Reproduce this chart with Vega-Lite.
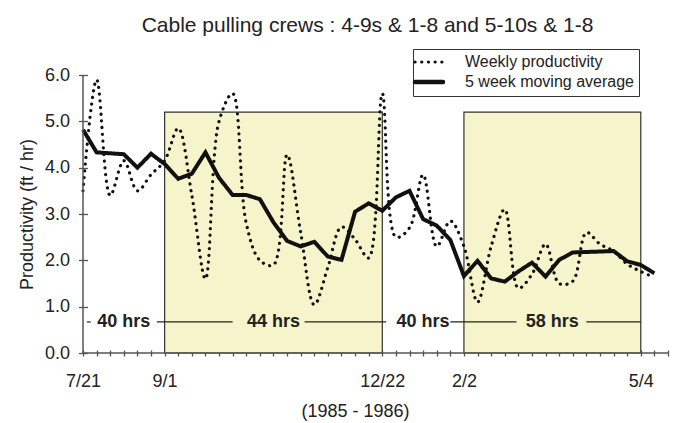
{
  "$schema": "https://vega.github.io/schema/vega-lite/v6.json",
  "width": 585,
  "height": 278,
  "autosize": "none",
  "padding": {"left": 83, "top": 75, "right": 13, "bottom": 70},
  "background": "white",
  "config": {
    "font": "Liberation Sans",
    "view": {"stroke": null},
    "axis": {
      "labelFont": "Liberation Sans",
      "titleFont": "Liberation Sans",
      "labelColor": "#222",
      "titleColor": "#222",
      "tickColor": "#555",
      "tickWidth": 1.3,
      "domain": false,
      "grid": false,
      "titleFontWeight": "normal",
      "labelFontSize": 18,
      "titleFontSize": 18
    }
  },
  "title": {
    "text": "Cable pulling crews : 4-9s & 1-8 and 5-10s & 1-8",
    "fontSize": 21,
    "fontWeight": "normal",
    "font": "Liberation Sans",
    "color": "#222",
    "anchor": "middle",
    "dx": -8,
    "offset": 13
  },
  "datasets": {
    "crew": [
      {"date": "1985-07-21", "weekly": 3.5, "avg": 4.82},
      {"date": "1985-07-28", "weekly": 5.9, "avg": 4.33},
      {"date": "1985-08-04", "weekly": 3.4, "avg": 4.31},
      {"date": "1985-08-11", "weekly": 4.15, "avg": 4.29},
      {"date": "1985-08-18", "weekly": 3.5, "avg": 4.0},
      {"date": "1985-08-25", "weekly": 3.85, "avg": 4.3},
      {"date": "1985-09-01", "weekly": 4.15, "avg": 4.08},
      {"date": "1985-09-08", "weekly": 4.85, "avg": 3.76},
      {"date": "1985-09-15", "weekly": 3.4, "avg": 3.87},
      {"date": "1985-09-22", "weekly": 1.6, "avg": 4.33},
      {"date": "1985-09-29", "weekly": 5.0, "avg": 3.78},
      {"date": "1985-10-06", "weekly": 5.6, "avg": 3.41},
      {"date": "1985-10-13", "weekly": 2.8, "avg": 3.41},
      {"date": "1985-10-20", "weekly": 2.0, "avg": 3.32},
      {"date": "1985-10-27", "weekly": 1.9, "avg": 2.82},
      {"date": "1985-11-03", "weekly": 4.28, "avg": 2.42},
      {"date": "1985-11-10", "weekly": 2.6, "avg": 2.3},
      {"date": "1985-11-17", "weekly": 1.04, "avg": 2.4},
      {"date": "1985-11-24", "weekly": 1.85, "avg": 2.08},
      {"date": "1985-12-01", "weekly": 2.72, "avg": 2.01},
      {"date": "1985-12-08", "weekly": 2.45, "avg": 3.05},
      {"date": "1985-12-15", "weekly": 2.05, "avg": 3.23},
      {"date": "1985-12-22", "weekly": 5.6, "avg": 3.07},
      {"date": "1985-12-29", "weekly": 2.5, "avg": 3.36},
      {"date": "1986-01-05", "weekly": 2.7, "avg": 3.5},
      {"date": "1986-01-12", "weekly": 3.85, "avg": 2.89},
      {"date": "1986-01-19", "weekly": 2.3, "avg": 2.75},
      {"date": "1986-01-26", "weekly": 2.85, "avg": 2.44},
      {"date": "1986-02-02", "weekly": 2.3, "avg": 1.66},
      {"date": "1986-02-09", "weekly": 1.1, "avg": 1.99},
      {"date": "1986-02-16", "weekly": 2.3, "avg": 1.61},
      {"date": "1986-02-23", "weekly": 3.1, "avg": 1.54},
      {"date": "1986-03-02", "weekly": 1.4, "avg": 1.76},
      {"date": "1986-03-09", "weekly": 1.7, "avg": 1.95},
      {"date": "1986-03-16", "weekly": 2.35, "avg": 1.65},
      {"date": "1986-03-23", "weekly": 1.5, "avg": 2.01},
      {"date": "1986-03-30", "weekly": 1.55, "avg": 2.17},
      {"date": "1986-04-06", "weekly": 2.6, "avg": 2.18},
      {"date": "1986-04-13", "weekly": 2.35, "avg": 2.19},
      {"date": "1986-04-20", "weekly": 2.2, "avg": 2.2},
      {"date": "1986-04-27", "weekly": 1.92, "avg": 1.98},
      {"date": "1986-05-04", "weekly": 1.76, "avg": 1.9},
      {"date": "1986-05-11", "weekly": 1.63, "avg": 1.72}
    ],
    "periods": [
      {"start": "1985-07-21", "end": "1985-09-01", "label": "40 hrs", "shaded": false},
      {"start": "1985-09-01", "end": "1985-12-22", "label": "44 hrs", "shaded": true},
      {"start": "1985-12-22", "end": "1986-02-02", "label": "40 hrs", "shaded": false},
      {"start": "1986-02-02", "end": "1986-05-04", "label": "58 hrs", "shaded": true}
    ],
    "hourLines": [
      {"start": "1985-07-23", "end": "1985-07-25"},
      {"start": "1985-08-28", "end": "1985-10-06"},
      {"start": "1985-11-12", "end": "1985-12-24"},
      {"start": "1986-01-26", "end": "1986-03-01"},
      {"start": "1986-04-06", "end": "1986-05-04"}
    ]
  },
  "layer": [
    {
      "data": {"name": "periods"},
      "transform": [{"filter": "datum.shaded"}],
      "mark": {"type": "rect", "fill": "#F6F4CB", "stroke": "#333", "strokeWidth": 1.2},
      "encoding": {
        "x": {
          "field": "start",
          "type": "temporal",
          "scale": {
            "type": "utc",
            "domain": [
              {"year": 1985, "month": 7, "date": 21, "utc": true},
              {"year": 1986, "month": 5, "date": 18, "utc": true}
            ]
          },
          "axis": {
            "title": "(1985 - 1986)",
            "tickCount": {"interval": "week", "step": 1},
            "labelExpr": "indexof(['7/21','9/1','12/22','2/2','5/4'], utcFormat(datum.value, '%-m/%-d')) >= 0 ? utcFormat(datum.value, '%-m/%-d') : ''",
            "labelOverlap": false,
            "labelFlush": false,
            "tickSize": 6,
            "offset": -3,
            "labelPadding": 16,
            "titleX": 272,
            "titleY": 61,
            "titleBaseline": "middle"
          }
        },
        "x2": {"field": "end"},
        "y": {
          "datum": 0,
          "type": "quantitative",
          "scale": {"domain": [0, 6], "nice": false},
          "axis": {
            "title": "Productivity (ft / hr)",
            "values": [0, 1, 2, 3, 4, 5, 6],
            "format": ".1f",
            "tickSize": 9,
            "offset": -4.5,
            "labelPadding": 9,
            "titleX": -60,
            "titleY": 139,
            "titleBaseline": "middle"
          }
        },
        "y2": {"datum": 5.2}
      }
    },
    {
      "data": {"name": "hourLines"},
      "mark": {"type": "rule", "color": "#222", "strokeWidth": 1.2},
      "encoding": {
        "x": {"field": "start", "type": "temporal"},
        "x2": {"field": "end"},
        "y": {"datum": 0.67, "type": "quantitative"}
      }
    },
    {
      "data": {"name": "periods"},
      "transform": [
        {"calculate": "(toNumber(toDate(datum.start)) + toNumber(toDate(datum.end))) / 2", "as": "mid"}
      ],
      "mark": {"type": "text", "fontSize": 18, "fontWeight": "bold", "color": "#222", "baseline": "middle", "align": "center"},
      "encoding": {
        "x": {"field": "mid", "type": "temporal"},
        "y": {"datum": 0.67, "type": "quantitative"},
        "text": {"field": "label"}
      }
    },
    {
      "data": {"name": "crew"},
      "mark": {"type": "line", "interpolate": "catmull-rom", "color": "#111", "strokeWidth": 3.2, "strokeCap": "round"},
      "encoding": {
        "x": {"field": "date", "type": "temporal"},
        "y": {"field": "weekly", "type": "quantitative"},
        "strokeDash": {
          "datum": "Weekly productivity",
          "type": "nominal",
          "scale": {
            "domain": ["Weekly productivity", "5 week moving average"],
            "range": [[0.1, 6.6], [1, 0]]
          },
          "legend": {
            "title": null,
            "orient": "none",
            "legendX": 330,
            "legendY": -26,
            "labelFont": "Liberation Sans",
            "labelFontSize": 16,
            "labelColor": "#222",
            "labelLimit": 400,
            "symbolType": "stroke",
            "symbolSize": 784,
            "symbolStrokeColor": "#111",
            "symbolStrokeWidth": 3.5,
            "symbolOffset": 3,
            "strokeColor": "#333",
            "fillColor": "white",
            "padding": 5,
            "rowPadding": 3,
            "labelOffset": 28,
            "encode": {
              "symbols": {
                "update": {
                  "strokeCap": {"value": "round"},
                  "strokeWidth": {"signal": "datum.value === '5 week moving average' ? 4.5 : 3.2"}
                }
              }
            }
          }
        }
      }
    },
    {
      "data": {"name": "crew"},
      "mark": {"type": "line", "interpolate": "linear", "color": "#111", "strokeWidth": 4, "strokeJoin": "miter"},
      "encoding": {
        "x": {"field": "date", "type": "temporal"},
        "y": {"field": "avg", "type": "quantitative"},
        "strokeDash": {"datum": "5 week moving average", "type": "nominal"}
      }
    },
    {
      "data": {"values": [{}]},
      "mark": {"type": "rule", "color": "#555", "strokeWidth": 1.5},
      "encoding": {"y": {"datum": 0, "type": "quantitative"}}
    },
    {
      "data": {"values": [{}]},
      "mark": {"type": "rule", "color": "#555", "strokeWidth": 1.5},
      "encoding": {"x": {"datum": {"year": 1985, "month": 7, "date": 21, "utc": true}, "type": "temporal"}}
    }
  ]
}
